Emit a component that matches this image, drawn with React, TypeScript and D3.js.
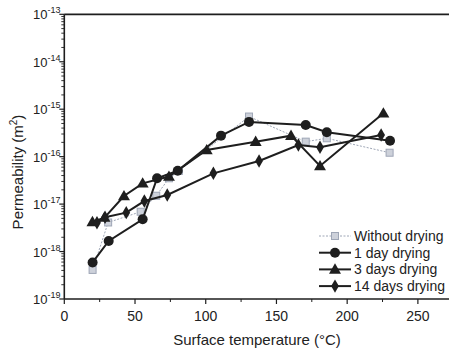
import React from "react";
import * as d3 from "d3";

const temps0 = [20, 31, 54, 65, 74, 81, 130.6, 170.7, 185.6, 230];
const perm0 = [4.1e-19, 4.1e-18, 6.9e-18, 1.5e-17, 3.5e-17, 5e-17, 7e-16, 2.07e-16, 2.44e-16, 1.21e-16];

const temps1 = [20, 31.4, 55.4, 65.6, 80.2, 110.8, 130.6, 170.7, 185.6, 230.3];
const perm1 = [5.9e-19, 1.67e-18, 4.8e-18, 3.5e-17, 5.06e-17, 2.77e-16, 5.4e-16, 4.65e-16, 3.26e-16, 2.17e-16];

const temps3 = [19.9, 28.4, 42.2, 55.4, 74, 100.7, 135.3, 160.3, 180.8, 225.6];
const perm3 = [4.2e-18, 5.2e-18, 1.48e-17, 2.74e-17, 3.8e-17, 1.38e-16, 2.07e-16, 2.77e-16, 6.35e-17, 8.2e-16];

const temps14 = [23.1, 28.8, 43.8, 56.6, 72.8, 105.4, 137.7, 165.5, 180.8, 224];
const perm14 = [4.06e-18, 5.3e-18, 6.6e-18, 1.16e-17, 1.56e-17, 4.45e-17, 8.1e-17, 1.76e-16, 1.58e-16, 2.86e-16];

const seriesNames = ["Without drying", "1 day drying", "3 days drying", "14 days drying"];
const xTicks = [0, 50, 100, 150, 200, 250];
const xMinor = [25, 75, 125, 175, 225];
const yExponents = [-13, -14, -15, -16, -17, -18, -19];

const FONT = "Arial, 'Liberation Sans', sans-serif";
const BLACK = "#1e1e1e";
const GRAY = "#9ea6b6";

function Marker({ kind, x, y }: { kind: string; x: number; y: number }) {
  if (kind === "square")
    return <rect x={x - 3.5} y={y - 3.5} width={7} height={7} fill="#cdd1da" stroke={GRAY} strokeWidth={1} />;
  if (kind === "circle") return <circle cx={x} cy={y} r={5} fill={BLACK} />;
  if (kind === "triangle") {
    const s = d3.symbol(d3.symbolTriangle, 62)();
    return <path d={s as string} transform={`translate(${x},${y + 0.8})`} fill={BLACK} />;
  }
  const s = d3.symbol(d3.symbolDiamond, 52)();
  return <path d={s as string} transform={`translate(${x},${y})`} fill={BLACK} />;
}

export default function App() {
  const W = 449, H = 349;
  const x = d3.scaleLinear().domain([0, 272]).range([64.3, 449]);
  const y = d3.scaleLog().domain([1e-19, 1e-13]).range([299, 14.3]);
  const x0 = x(0), yb = y(1e-19), yt = y(1e-13);

  const series = [
    { name: seriesNames[0], t: temps0, p: perm0, kind: "square", color: GRAY, dash: "2,1.5", w: 1 },
    { name: seriesNames[1], t: temps1, p: perm1, kind: "circle", color: BLACK, dash: undefined, w: 2 },
    { name: seriesNames[2], t: temps3, p: perm3, kind: "triangle", color: BLACK, dash: undefined, w: 2 },
    { name: seriesNames[3], t: temps14, p: perm14, kind: "diamond", color: BLACK, dash: undefined, w: 2 },
  ];

  const line = d3.line<[number, number]>().x((d) => x(d[0])).y((d) => y(d[1]));

  const minorY: number[] = [];
  for (let e = -19; e < -13; e++) for (let m = 2; m <= 9; m++) minorY.push(m * Math.pow(10, e));

  return (
    <svg width={W} height={H} style={{ position: "absolute", left: 0, top: 0, background: "#fff" }} fontFamily={FONT}>
      {/* axes */}
      <line x1={x0} x2={449} y1={yt} y2={yt} stroke={BLACK} strokeWidth={1.8} />
      <line x1={x0} x2={x0} y1={yt} y2={yb} stroke={BLACK} strokeWidth={1.6} />
      <line x1={x0} x2={449} y1={yb} y2={yb} stroke={BLACK} strokeWidth={1.6} />
      {xTicks.map((t) => (
        <g key={"xt" + t}>
          <line x1={x(t)} x2={x(t)} y1={yb} y2={yb + 5} stroke={BLACK} strokeWidth={1.2} />
          <text x={x(t)} y={321} fontSize={14} textAnchor="middle" fill="#222">{t}</text>
        </g>
      ))}
      {xMinor.map((t) => (
        <line key={"xm" + t} x1={x(t)} x2={x(t)} y1={yb} y2={yb + 3} stroke={BLACK} strokeWidth={1} />
      ))}
      {yExponents.map((e) => (
        <g key={"yt" + e}>
          <line x1={x0 - 5} x2={x0} y1={y(Math.pow(10, e))} y2={y(Math.pow(10, e))} stroke={BLACK} strokeWidth={1.2} />
          <text x={33} y={y(Math.pow(10, e)) + 5} fontSize={13} fill="#222">
            10<tspan fontSize={9} dy={-6}>{e}</tspan>
          </text>
        </g>
      ))}
      {minorY.map((v, i) => (
        <line key={"ym" + i} x1={x0 - 3} x2={x0} y1={y(v)} y2={y(v)} stroke={BLACK} strokeWidth={0.9} />
      ))}
      <text x={257} y={345} fontSize={15} textAnchor="middle" fill="#222">Surface temperature (°C)</text>
      <text transform={`translate(23,${172}) rotate(-90)`} fontSize={15} textAnchor="middle" fill="#222">
        Permeability (m<tspan fontSize={10} dy={-6}>2</tspan><tspan dy={6}>)</tspan>
      </text>

      {/* series */}
      {series.map((s) => {
        const pts = s.t.map((t, i) => [t, s.p[i]] as [number, number]);
        return (
          <g key={s.name}>
            <path d={line(pts) as string} fill="none" stroke={s.color} strokeWidth={s.w} strokeDasharray={s.dash} />
            {pts.map((d, i) => (
              <Marker key={i} kind={s.kind} x={x(d[0])} y={y(d[1])} />
            ))}
          </g>
        );
      })}

      {/* legend */}
      {series.map((s, i) => {
        const ly = 236 + i * 16.7;
        return (
          <g key={"lg" + i}>
            <line x1={319} x2={351} y1={ly} y2={ly} stroke={s.color} strokeWidth={s.w} strokeDasharray={s.dash} />
            <Marker kind={s.kind} x={335} y={ly} />
            <text x={354} y={ly + 5} fontSize={14} fill="#222">{s.name}</text>
          </g>
        );
      })}
    </svg>
  );
}
